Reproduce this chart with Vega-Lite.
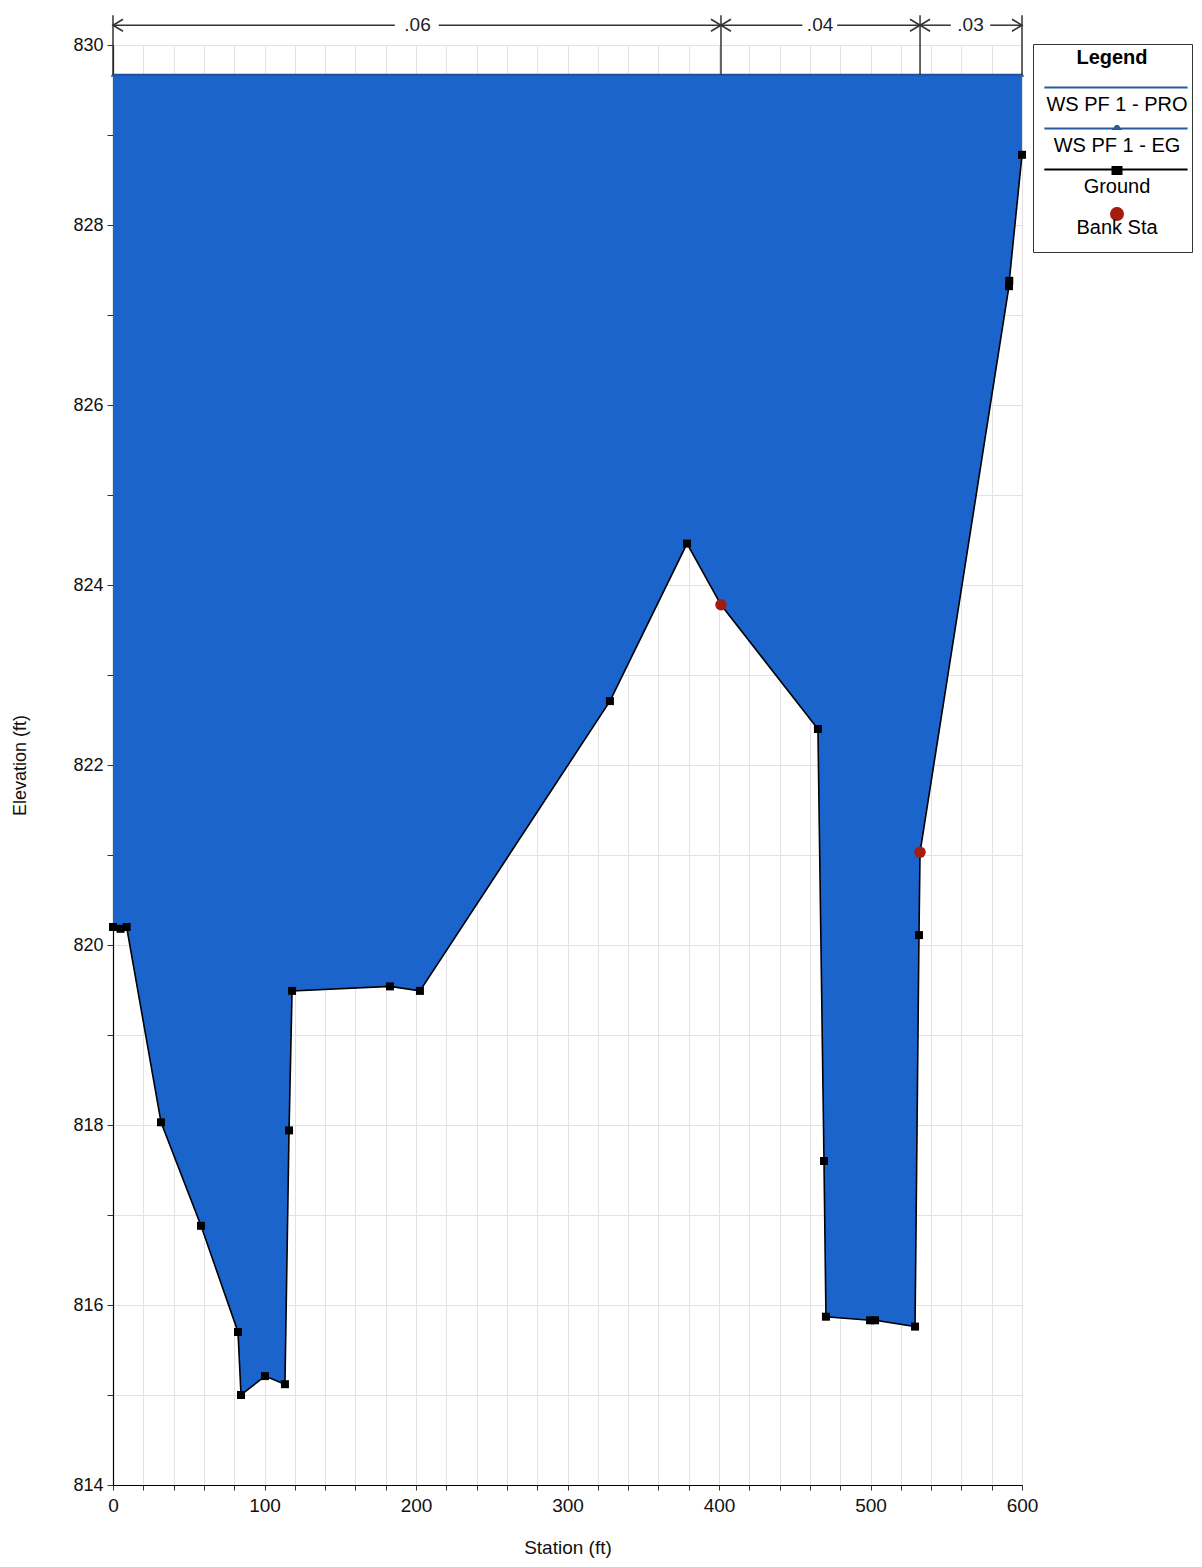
{
  "$schema": "https://vega.github.io/schema/vega-lite/v6.json",
  "autosize": {"type": "none"},
  "width": 909,
  "height": 1440,
  "padding": {"left": 113, "top": 45, "right": 180, "bottom": 82},
  "background": "white",
  "config": {
    "view": {"stroke": null},
    "font": "Liberation Sans",
    "axis": {
      "gridColor": "#e2e2e2",
      "gridWidth": 1,
      "domainColor": "#000000",
      "domainWidth": 1.2,
      "tickColor": "#333333",
      "labelColor": "#111111",
      "titleColor": "#111111",
      "labelFont": "Liberation Sans",
      "titleFont": "Liberation Sans",
      "titleFontWeight": "normal"
    },
    "legend": {
      "orient": "none",
      "legendX": 920,
      "legendY": -1,
      "padding": 4,
      "strokeColor": "#333333",
      "fillColor": "#ffffff",
      "titleFontSize": 20,
      "titleFontWeight": "bold",
      "titleFont": "Liberation Sans",
      "titleAnchor": "middle",
      "titleColor": "#000000",
      "titlePadding": 16,
      "labelFontSize": 20,
      "labelFont": "Liberation Sans",
      "labelColor": "#000000",
      "labelLimit": 220,
      "labelAlign": "center",
      "labelOffset": -80,
      "rowPadding": 0,
      "clipHeight": 41,
      "symbolSize": 24964,
      "symbolStrokeWidth": 2,
      "symbolOpacity": 1
    }
  },
  "datasets": {
    "ground": [
      {"station": 0, "elev": 820.2},
      {"station": 5, "elev": 820.18},
      {"station": 9, "elev": 820.2},
      {"station": 31.7, "elev": 818.03},
      {"station": 58.1, "elev": 816.88},
      {"station": 82.5, "elev": 815.7},
      {"station": 84.5, "elev": 815.0},
      {"station": 100.3, "elev": 815.21},
      {"station": 113.5, "elev": 815.12},
      {"station": 116.2, "elev": 817.94},
      {"station": 118.2, "elev": 819.49},
      {"station": 182.8, "elev": 819.54},
      {"station": 202.6, "elev": 819.49},
      {"station": 328, "elev": 822.71},
      {"station": 378.9, "elev": 824.46},
      {"station": 401.3, "elev": 823.78},
      {"station": 465.3, "elev": 822.4},
      {"station": 469.3, "elev": 817.6},
      {"station": 470.6, "elev": 815.87},
      {"station": 499.7, "elev": 815.83},
      {"station": 503, "elev": 815.83},
      {"station": 529.4, "elev": 815.76},
      {"station": 532, "elev": 820.11},
      {"station": 532.7, "elev": 821.03},
      {"station": 591.4, "elev": 827.32},
      {"station": 591.6, "elev": 827.38},
      {"station": 600, "elev": 828.78}
    ],
    "bank": [
      {"station": 401.3, "elev": 823.78},
      {"station": 532.7, "elev": 821.03}
    ],
    "ws": [
      {"station": 0, "elev": 829.67},
      {"station": 532.7, "elev": 829.67},
      {"station": 600, "elev": 829.67}
    ],
    "legendrows": [],
    "segs": [
      {"station": 0, "station2": 186, "elev": 830.22},
      {"station": 215, "station2": 401.3, "elev": 830.22},
      {"station": 401.3, "station2": 455, "elev": 830.22},
      {"station": 478, "station2": 532.7, "elev": 830.22},
      {"station": 532.7, "station2": 553, "elev": 830.22},
      {"station": 579, "station2": 600, "elev": 830.22}
    ],
    "vticks": [
      {"station": 0, "elev": 829.67, "elev2": 830.33},
      {"station": 401.3, "elev": 829.67, "elev2": 830.33},
      {"station": 532.7, "elev": 829.67, "elev2": 830.33},
      {"station": 600, "elev": 829.67, "elev2": 830.33}
    ],
    "nlabels": [
      {"station": 201, "elev": 830.22, "n": ".06"},
      {"station": 466.7, "elev": 830.22, "n": ".04"},
      {"station": 566, "elev": 830.22, "n": ".03"}
    ],
    "leftheads": [
      {"station": 0, "elev": 830.22},
      {"station": 401.3, "elev": 830.22},
      {"station": 532.7, "elev": 830.22}
    ],
    "rightheads": [
      {"station": 401.3, "elev": 830.22},
      {"station": 532.7, "elev": 830.22},
      {"station": 600, "elev": 830.22}
    ]
  },
  "encoding": {
    "x": {
      "field": "station",
      "type": "quantitative",
      "scale": {"domain": [0, 600], "nice": false, "zero": false},
      "axis": {
        "title": "Station (ft)",
        "values": [0,20,40,60,80,100,120,140,160,180,200,220,240,260,280,300,320,340,360,380,400,420,440,460,480,500,520,540,560,580,600],
        "labelExpr": "datum.value % 100 == 0 ? datum.label : ''",
        "labelFlush": false,
        "grid": true,
        "tickSize": 5,
        "labelFontSize": 19,
        "labelPadding": 6,
        "titleFontSize": 19,
        "titleY": 62,
        "titleBaseline": "middle"
      }
    },
    "y": {
      "field": "elev",
      "type": "quantitative",
      "scale": {"domain": [814, 830], "nice": false, "zero": false},
      "axis": {
        "title": "Elevation (ft)",
        "values": [814,815,816,817,818,819,820,821,822,823,824,825,826,827,828,829,830],
        "labelExpr": "datum.value % 2 == 0 ? datum.label : ''",
        "labelFlush": false,
        "grid": true,
        "tickSize": 6,
        "labelFontSize": 18,
        "labelPadding": 4,
        "titleFontSize": 18,
        "titleX": -93,
        "titleY": 720,
        "titleAngle": -90,
        "titleAlign": "center",
        "titleBaseline": "middle"
      }
    }
  },
  "layer": [
    {
      "data": {"name": "ground"},
      "mark": {"type": "area", "color": "#1b64cb", "opacity": 1},
      "encoding": {"y2": {"datum": 829.67}}
    },
    {
      "data": {"name": "ws"},
      "mark": {"type": "line", "color": "#1f4f97", "strokeWidth": 2},
      "encoding": {}
    },
    {
      "data": {"name": "ground"},
      "mark": {"type": "line", "color": "#000000", "strokeWidth": 1.6},
      "encoding": {"order": {"field": "station", "type": "quantitative"}}
    },
    {
      "data": {"name": "ws"},
      "mark": {"type": "point", "shape": "triangle-up", "filled": true, "size": 22, "opacity": 1, "color": "#2a5aa0"}
    },
    {
      "data": {"name": "ground"},
      "mark": {"type": "point", "shape": "square", "filled": true, "size": 64, "opacity": 1, "color": "#000000"}
    },
    {
      "data": {"name": "bank"},
      "mark": {"type": "point", "shape": "circle", "filled": true, "size": 130, "opacity": 1, "color": "#a31c0c"}
    },
    {
      "data": {"name": "legendrows"},
      "mark": {"type": "point", "filled": true, "opacity": 1},
      "encoding": {
        "x": {"field": "station", "type": "quantitative"},
        "y": {"field": "elev", "type": "quantitative"},
        "color": {
          "field": "series",
          "type": "nominal",
          "title": "Legend",
          "scale": {
            "domain": ["WS PF 1 - PRO", "WS PF 1 - EG", "Ground", "Bank Sta"],
            "range": ["#2a5aa0", "#2a5aa0", "#000000", "#a31c0c"]
          }
        },
        "stroke": {
          "field": "series",
          "type": "nominal",
          "title": "Legend",
          "scale": {
            "domain": ["WS PF 1 - PRO", "WS PF 1 - EG", "Ground", "Bank Sta"],
            "range": ["#2a5aa0", "#2a5aa0", "#000000", "#a31c0c"]
          }
        },
        "shape": {
          "field": "series",
          "type": "nominal",
          "title": "Legend",
          "scale": {
            "domain": ["WS PF 1 - PRO", "WS PF 1 - EG", "Ground", "Bank Sta"],
            "range": [
              "M-1,-0.215h0.0001M0.9999,-0.215h0.0001M-0.92,-0.215H0.92",
              "M-1,-0.215h0.0001M0.9999,-0.215h0.0001M-0.92,-0.215H0.92M0,-0.265L0.04,-0.21H-0.04Z",
              "M-1,-0.215h0.0001M0.9999,-0.215h0.0001M-0.92,-0.215H0.92M-0.057,-0.272H0.057V-0.158H-0.057Z",
              "M-1,-0.17h0.0001M0.9999,-0.17h0.0001M0,-0.247A0.076,0.076 0 1,1 0,-0.095A0.076,0.076 0 1,1 0,-0.247Z"
            ]
          }
        }
      }
    },
    {
      "data": {"name": "segs"},
      "mark": {"type": "rule", "color": "#333333", "strokeWidth": 1.5},
      "encoding": {
        "x2": {"field": "station2"}
      }
    },
    {
      "data": {"name": "vticks"},
      "mark": {"type": "rule", "color": "#333333", "strokeWidth": 1.5},
      "encoding": {
        "y2": {"field": "elev2"}
      }
    },
    {
      "data": {"name": "leftheads"},
      "mark": {"type": "point", "shape": "M1,-0.6L0,0L1,0.6", "filled": false, "size": 400, "stroke": "#333333", "strokeWidth": 1.6, "opacity": 1}
    },
    {
      "data": {"name": "rightheads"},
      "mark": {"type": "point", "shape": "M-1,-0.6L0,0L-1,0.6", "filled": false, "size": 400, "stroke": "#333333", "strokeWidth": 1.6, "opacity": 1}
    },
    {
      "data": {"name": "nlabels"},
      "mark": {"type": "text", "fontSize": 19, "font": "Liberation Sans", "color": "#222222", "baseline": "middle", "align": "center"},
      "encoding": {
        "text": {"field": "n"}
      }
    }
  ]
}
